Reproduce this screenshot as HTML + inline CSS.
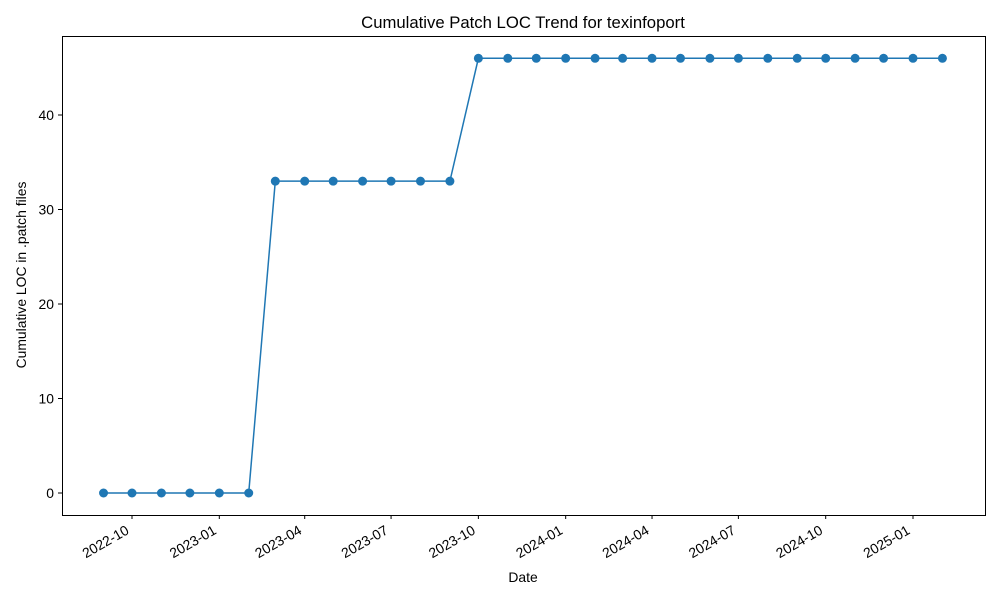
<!DOCTYPE html>
<html><head><meta charset="utf-8"><style>
html,body{margin:0;padding:0;background:#fff;}
svg{display:block;font-family:"Liberation Sans","DejaVu Sans",sans-serif;}
</style></head><body>
<svg id="chart" width="1000" height="600">
<rect width="1000" height="600" fill="#fff"/>
<text x="523" y="28" font-size="16.7" text-anchor="middle">Cumulative Patch LOC Trend for texinfoport</text>
<text x="523" y="582" font-size="13.9" text-anchor="middle">Date</text>
<text transform="translate(26,275) rotate(-90)" font-size="13.9" text-anchor="middle">Cumulative LOC in .patch files</text>
<g id="axes"></g>
<g id="series"></g>
<rect x="62.5" y="36.5" width="923" height="479" fill="none" stroke="#000" stroke-width="1"/>
</svg>
<script>
const dates = ["2022-09","2022-10","2022-11","2022-12","2023-01","2023-02","2023-03","2023-04","2023-05","2023-06","2023-07","2023-08","2023-09","2023-10","2023-11","2023-12","2024-01","2024-02","2024-03","2024-04","2024-05","2024-06","2024-07","2024-08","2024-09","2024-10","2024-11","2024-12","2025-01","2025-02"];
const values = [0,0,0,0,0,0,33,33,33,33,33,33,33,46,46,46,46,46,46,46,46,46,46,46,46,46,46,46,46,46];
const xTicks = ["2022-10","2023-01","2023-04","2023-07","2023-10","2024-01","2024-04","2024-07","2024-10","2025-01"];
const yTicks = [0,10,20,30,40];

const NS="http://www.w3.org/2000/svg";
function toDay(s){const [y,m]=s.split("-").map(Number);return Date.UTC(y,m-1,1)/86400000;}
const d0=toDay("2022-10"), d1=toDay("2025-01");
function xs(s){return 132+(toDay(s)-d0)*(913-132)/(d1-d0);}
function ys(v){return 493+(v-0)*(115-493)/40;}
function mk(tag,attrs,parent){const e=document.createElementNS(NS,tag);for(const k in attrs)e.setAttribute(k,attrs[k]);parent.appendChild(e);return e;}
const axes=document.getElementById("axes"), series=document.getElementById("series");

yTicks.forEach(v=>{
  const y=ys(v);
  const t=mk("line",{x1:58,x2:62,y1:y,y2:y,stroke:"#000"},axes);
  
  
  const l=mk("text",{x:54,y:y+5,"font-size":13.9,"text-anchor":"end"},axes);
  l.textContent=v;
  
  
});
xTicks.forEach(s=>{
  const x=xs(s);
  const t=mk("line",{x1:x,x2:x,y1:515,y2:519,stroke:"#000"},axes);
  
  
  const l=mk("text",{transform:`translate(${x-2},${533}) rotate(-30)`,"font-size":13.9,"text-anchor":"end"},axes);
  l.textContent=s;
  
  
});
const pts=dates.map((d,i)=>xs(d)+","+ys(values[i])).join(" ");
const line=mk("polyline",{points:pts,fill:"none",stroke:"#1f77b4","stroke-width":1.5},series);


dates.forEach((d,i)=>{
  const c=mk("circle",{cx:xs(d),cy:ys(values[i]),r:4.5,fill:"#1f77b4"},series);
  
  
});
</script>
</body></html>
